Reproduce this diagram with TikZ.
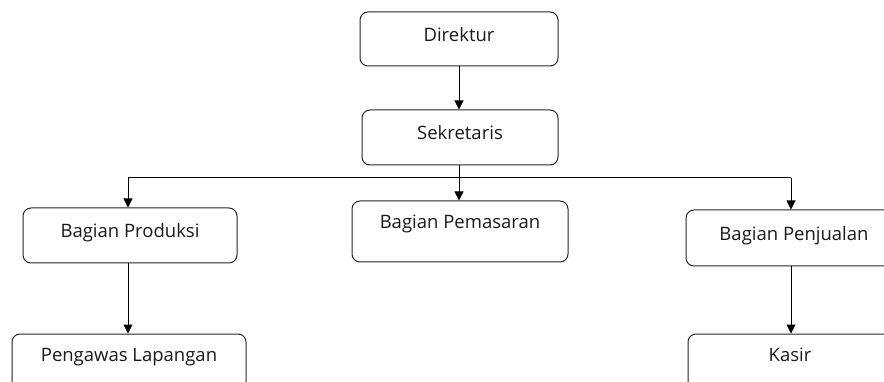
\documentclass[tikz,border=0pt]{standalone}
\usepackage{fontspec}
\setmainfont{Open Sans}
\usetikzlibrary{arrows.meta}
\begin{document}
\begin{tikzpicture}[x=1pt,y=-1pt,
  box/.style={draw=black!85, line width=1pt, rounded corners=8pt, anchor=center,
    font=\fontsize{18.5}{20}\selectfont, text=black!90, inner sep=0pt},
  conn/.style={line width=1pt, draw=black},
  arr/.style={conn, -{Triangle[width=9pt,length=9pt]}}]
\useasboundingbox (0,0) rectangle (884,382);
\clip (0,0) rectangle (884,382);
\node[box, minimum width=198pt, minimum height=54pt, text depth=10pt] (dir) at (459,39) {Direktur};
\node[box, minimum width=196pt, minimum height=55pt, text depth=10pt] (sek) at (460,137.5) {Sekretaris};
\node[box, minimum width=216pt, minimum height=61pt, text depth=20pt] (pem) at (460,231.5) {Bagian Pemasaran};
\node[box, minimum width=214pt, minimum height=55pt, text depth=10pt] (prod) at (130,235.5) {Bagian Produksi};
\node[box, minimum width=234pt, minimum height=56pt, text depth=14pt] (peng) at (129,362) {Pengawas Lapangan};
\node[box, minimum width=216pt, minimum height=56pt, text depth=10pt] (penj) at (794,238) {Bagian Penjualan};
\node[box, minimum width=204pt, minimum height=56pt, text depth=14pt] (kas) at (790,362) {Kasir};
\coordinate (busL) at (128,178);
\coordinate (busM) at (459,178);
\coordinate (busR) at (791,178);
\draw[arr] (dir.south -| busM) -- (sek.north -| busM);
\draw[conn] (busL) -- (busR);
\draw[arr] (sek.south -| busM) -- (pem.north -| busM);
\draw[arr] (busL) -- (prod.north -| busL);
\draw[arr] (busR) -- (penj.north -| busR);
\draw[arr] (prod.south -| busL) -- (peng.north -| busL);
\draw[arr] (penj.south -| busR) -- (kas.north -| busR);
\end{tikzpicture}
\end{document}
